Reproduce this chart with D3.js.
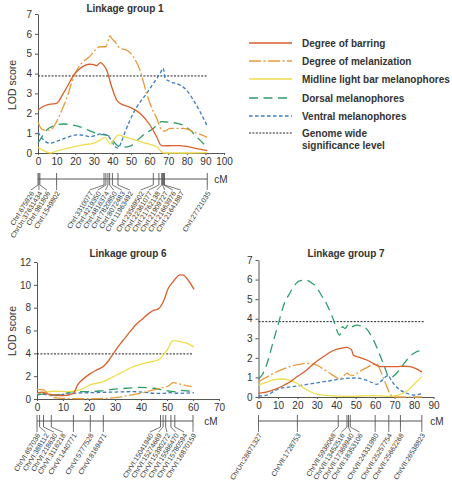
<!DOCTYPE html>
<html><head><meta charset="utf-8">
<script src="https://cdn.jsdelivr.net/npm/d3@7"></script>
<style>body{margin:0;background:#fff;} svg{display:block;font-family:"Liberation Sans",Arial,Helvetica,sans-serif;}</style>
</head><body><svg id="c" width="452" height="483"></svg>
<script>
// ---------- DATA ----------
const seriesNames = ["Degree of barring","Degree of melanization","Midline light bar melanophores","Dorsal melanophores","Ventral melanophores"];
const thresholdName = ["Genome wide","significance level"];

// Linkage group 1 : [cM, LOD]
const lg1Barring = [[0,2.15],[2,2.3],[5,2.42],[8,2.47],[10,2.5],[13.6,3.0],[17.2,3.59],[19,3.9],[22,4.2],[25,4.4],[28,4.47],[30,4.45],[31.5,4.4],[33.5,4.55],[35,4.45],[36.9,4.18],[39.6,3.34],[42.3,2.67],[44,2.5],[49.5,2.3],[54.8,2.0],[60.2,1.41],[63.8,0.82],[66,0.4],[67.5,0.36],[72,0.37],[76,0.37],[84,0.25],[91,0.12]];
const lg1Melan = [[0,1.58],[1.5,1.25],[3,1.16],[6.5,1.15],[10,1.58],[13,2.2],[15.4,2.75],[18,3.5],[20,4.0],[22.6,4.43],[25,4.65],[28,4.88],[31,5.2],[33.3,5.35],[36.5,5.35],[38.7,5.9],[39.8,5.75],[41.4,5.6],[44,5.27],[47.7,5.18],[51.2,4.85],[54.8,4.18],[58.4,3.0],[61,2.3],[63.8,1.75],[66.5,1.16],[68,1.1],[71,1.24],[78,1.24],[84,1.05],[91,0.79]];
const lg1Midline = [[0,0.29],[3,0.12],[6.5,0],[8,0.02],[10,0.1],[15,0.22],[20.8,0.35],[25,0.42],[29.7,0.49],[33,0.62],[36,0.79],[37.8,0.57],[39,0.45],[41,0.7],[43.2,0.91],[46,0.83],[49.5,0.74],[56.6,0.52],[62,0.38],[64,0.3],[66,0.1],[67.6,0],[80,0],[91,0.02]];
const lg1Dorsal = [[0,0.5],[2,0.8],[4.7,1.16],[8,1.35],[13.6,1.46],[18,1.42],[22.6,1.32],[27,1.15],[31.5,0.99],[35,0.92],[37,0.9],[38.7,0.82],[42.3,0.4],[45,0.29],[49.5,0.35],[53,0.6],[56.6,0.91],[62,1.24],[64,1.41],[66.5,1.58],[70,1.55],[74.5,1.5],[78,1.4],[81.7,1.16],[86,0.75],[91,0.29]];
const lg1Ventral = [[0,1.05],[3,0.65],[6.5,0.49],[9,0.55],[11.8,0.65],[16,0.8],[20.8,0.91],[24,0.9],[28,0.82],[31,0.88],[33.3,0.96],[37,0.9],[39,0.7],[41.4,0.32],[43,0.25],[45,0.6],[47,1.1],[49.5,1.66],[53,2.3],[58.4,3.0],[62,3.5],[65.6,4.0],[67.4,4.27],[68.3,3.76],[71,3.6],[76.3,3.42],[80,3.15],[83.5,2.67],[87,2.1],[90.7,1.41]];
const lg1Threshold = [0, 91, 3.88];
const lg1Markers = ["ChrI:675926","ChrUn:37631434","ChrI:981806","ChrI:1549802","ChrI:3310077","ChrI:4219350","ChrI:4816374","ChrI:7820850","ChrI:8072483","ChrI:11963492","ChrI:23569502","ChrI:22361077","ChrI:21762138","ChrI:21909727","ChrI:21663976","ChrI:21641887","ChrI:27721035"];
const lg1MarkerPos = [0,0.5,1,10,35.5,36.5,37.6,38.5,40,43,62,65,66.5,67,67.5,68,91];
const lg1XTicks = [0,10,20,30,40,50,60,70,80,90,100];
const lg1YTicks = [0,1,2,3,4,5,6,7];

// Linkage group 6
const lg6Barring = [[0,0.55],[2,0.6],[4,0.45],[7,0.35],[10,0.3],[14,0.5],[15.5,1.2],[17,1.6],[20.4,2.2],[23,2.55],[25.5,2.85],[27.5,3.35],[29.3,3.95],[30.6,4.4],[33,5.1],[35.8,5.9],[38,6.5],[40.9,7.08],[43,7.5],[44.7,7.75],[46.7,7.9],[48.6,8.54],[50.5,9.7],[52.4,10.29],[55,10.88],[56.3,10.85],[58.2,10.4],[60.4,9.6]];
const lg6Melan = [[0,0.85],[2.6,0.8],[4,0.5],[6.5,0.12],[10,0.05],[20,0.02],[24,0.03],[30.6,0.15],[35,0.3],[39.6,0.5],[44.7,0.79],[48.6,1.02],[50.5,1.14],[52.4,1.43],[54,1.35],[57,1.2],[59.5,1.08]];
const lg6Midline = [[0,0.5],[3,0.6],[6,0.68],[11.4,0.64],[16.5,0.79],[20.4,1.23],[25.5,1.52],[30.6,2.1],[34,2.5],[37,2.83],[42.2,3.19],[46.7,3.42],[48.6,3.86],[50.5,4.45],[51.8,5.03],[52.4,5.11],[55,5.03],[57.6,4.89],[60.4,4.54]];
const lg6Dorsal = [[0,0.35],[3,0.45],[6,0.35],[10,0.45],[14,0.64],[19,0.64],[24,0.7],[29,0.85],[34.5,0.94],[39.6,1.02],[45,0.94],[48.6,0.79],[50.5,0.7],[52.4,0.64],[55,0.75],[58,0.7],[60.4,0.64]];
const lg6Ventral = [[0,0.5],[2,0.45],[4,0.35],[7,0.3],[10,0.4],[14,0.5],[20,0.55],[28,0.6],[37,0.64],[42,0.58],[45,0.5],[48.6,0.5],[51,0.55],[55,0.5],[60.4,0.55]];
const lg6Threshold = [0, 60, 3.95];
const lg6Markers = ["ChrVI:657036","ChrVI:388112","ChrVI:218630","ChrVI:3116218","ChrVI:1440771","ChrVI:5777528","ChrVI:8169471","ChrVI:15041940","ChrVI:15274669","ChrVI:15390272","ChrVI:15586470","ChrVI:15780594","ChrVI:16870159"];
const lg6MarkerPos = [0,1,2.5,5.5,14,20.5,25.5,47.5,48.5,49.5,51.5,53,60];
const lg6XTicks = [0,10,20,30,40,50,60,70];
const lg6YTicks = [0,2,4,6,8,10,12];

// Linkage group 7
const lg7Barring = [[0,0.19],[4,0.25],[7.7,0.36],[12,0.55],[16.3,0.78],[20,1.05],[24.8,1.38],[29,1.75],[33.4,2.06],[38,2.35],[42,2.48],[45.4,2.54],[47.8,2.42],[48.8,2.14],[52,2.02],[55.7,1.89],[59,1.72],[62.5,1.55],[66,1.55],[70.9,1.55],[75,1.57],[77.8,1.55],[81,1.45],[84,1.27]];
const lg7Melan = [[0,0.78],[4,1.0],[7.7,1.21],[12,1.4],[16.3,1.55],[20,1.65],[24.8,1.72],[27,1.7],[30,1.63],[33,1.45],[36.8,1.21],[40,1.0],[42,0.9],[44,1.1],[45.5,1.22],[46.5,1.15],[48.8,1.1],[52,1.3],[54.8,1.46],[58,1.62],[60.8,1.71],[62.5,1.4],[64.5,0.9],[66,0.53],[68,0.1],[70,0],[84,0]];
const lg7Midline = [[0,0.61],[4,0.75],[7.7,0.87],[12,0.92],[16,0.85],[19.7,0.7],[23,0.48],[26.6,0.27],[30,0.15],[33.4,0.1],[40,0.05],[45.4,0.03],[52,0.05],[58.9,0.07],[63,0.05],[67.7,0.03],[71,0.08],[74.4,0.19],[78,0.45],[81,0.75],[84,1.04]];
const lg7Dorsal = [[0,0.92],[2,1.15],[4,1.6],[7.5,2.8],[10.8,3.95],[13,4.7],[16,5.29],[18.5,5.7],[21.1,5.93],[24.6,5.97],[27,5.85],[29.7,5.63],[32,5.25],[34.9,4.78],[38.3,4.01],[41.8,3.16],[43.1,3.59],[44.5,3.5],[46,3.67],[47,3.55],[50.4,3.67],[54.6,3.56],[58.9,2.95],[61,2.5],[63,2.0],[65,1.5],[66.8,1.05],[68,1.0],[70.9,1.2],[74,1.6],[77.8,2.06],[81,2.3],[83.5,2.38]];
const lg7Ventral = [[0,0.05],[4.4,0.1],[8,0.3],[11.1,0.44],[15,0.5],[19.7,0.56],[28.3,0.7],[36.8,0.83],[41,0.9],[45.4,0.95],[49,0.97],[52.3,0.95],[55,0.87],[57.4,0.78],[60.8,0.65],[63,0.8],[65,1.0],[66.8,1.1],[68,0.9],[69.4,0.7],[72.8,0.36],[76,0.2],[79.7,0.1],[82,0.12],[84,0.19]];
const lg7Threshold = [0, 85, 3.85];
const lg7Markers = ["ChrUn:28671327","ChrVII:1728753","ChrVII:5936068","ChrVII:13452516","ChrVII:17369940","ChrVII:18353106","ChrVII:24331980","ChrVII:25257754","ChrVII:25662268","ChrVII:26538823"];
const lg7MarkerPos = [0,20,41,45.5,46.3,47.2,60,67,73,84];
const lg7XTicks = [0,10,20,30,40,50,60,70,80,90];
const lg7YTicks = [0,1,2,3,4,5,6,7];

// ---------- STYLE ----------
const colors = ["#d9602c","#e99a3e","#efdd4e","#2e9c69","#3b7dc0"];
const dashes = [null,"12,2.5,2,2.5",null,"9,5.5","3.6,2.4"];
const textColor = "#333";
const axisColor = "#555";

const panels = [
  {title:"Linkage group 1", series:[lg1Barring,lg1Melan,lg1Midline,lg1Dorsal,lg1Ventral], thr:lg1Threshold,
   markers:lg1Markers, pos:lg1MarkerPos, xt:lg1XTicks, yt:lg1YTicks,
   xr:[38,224], yr:[153,14], titleX:125, titleY:12, mapY:179, gap:8, minOff:-8, ylab:[12,85], cmX:221},
  {title:"Linkage group 6", series:[lg6Barring,lg6Melan,lg6Midline,lg6Dorsal,lg6Ventral], thr:lg6Threshold,
   markers:lg6Markers, pos:lg6MarkerPos, xt:lg6XTicks, yt:lg6YTicks,
   xr:[37,219], yr:[399,262], titleX:128, titleY:257, mapY:421, gap:8.5, minOff:0, ylab:[12,331], cmX:211},
  {title:"Linkage group 7", series:[lg7Barring,lg7Melan,lg7Midline,lg7Dorsal,lg7Ventral], thr:lg7Threshold,
   markers:lg7Markers, pos:lg7MarkerPos, xt:lg7XTicks, yt:lg7YTicks,
   xr:[258.5,433.5], yr:[397,260], titleX:346, titleY:257, mapY:421, gap:9, minOff:0, ylab:null, cmX:437}
];

const svg = d3.select("#c");
svg.append("rect").attr("width",452).attr("height",483).attr("fill","#fff");

// 1-D label de-overlap keeping order; first block clamped to minX
function spread(xs, gap, minX){
  const blocks=[];
  const start=(b,idx)=> idx===0 ? Math.max(minX, b.sumAdj/b.n) : b.sumAdj/b.n;
  xs.forEach(x=>{
    blocks.push({n:1,sumAdj:x});
    while(blocks.length>1){
      const L=blocks.length;
      const b=blocks[L-1], a=blocks[L-2];
      if(start(a,L-2) + a.n*gap > start(b,L-1)){
        blocks.pop(); blocks.pop();
        blocks.push({n:a.n+b.n, sumAdj:a.sumAdj + b.sumAdj - b.n*a.n*gap});
      } else break;
    }
  });
  const out=[];
  blocks.forEach((b,idx)=>{const s=start(b,idx); for(let k=0;k<b.n;k++) out.push(s+k*gap);});
  return out;
}

panels.forEach(p=>{
  const xd=[p.xt[0], p.xt[p.xt.length-1]];
  const yd=[p.yt[0], p.yt[p.yt.length-1]];
  const x=d3.scaleLinear().domain(xd).range(p.xr);
  const y=d3.scaleLinear().domain(yd).range(p.yr);
  const g=svg.append("g");

  // axes
  const xa=g.append("g").attr("transform",`translate(0,${p.yr[0]})`)
    .call(d3.axisBottom(x).tickValues(p.xt).tickSizeInner(2).tickSizeOuter(0).tickPadding(3).tickFormat(d3.format("d")));
  const ya=g.append("g").attr("transform",`translate(${p.xr[0]},0)`)
    .call(d3.axisLeft(y).tickValues(p.yt).tickSizeInner(3).tickSizeOuter(0).tickPadding(3).tickFormat(d3.format("d")));
  [xa,ya].forEach(a=>{
    a.select(".domain").attr("stroke",axisColor).attr("stroke-width",1);
    a.selectAll(".tick line").attr("stroke",axisColor);
    a.selectAll("text").attr("fill",textColor).style("font-size","10px").style("font-family","'Liberation Sans',Arial,sans-serif");
  });

  // title
  g.append("text").attr("x",p.titleX).attr("y",p.titleY).attr("text-anchor","middle")
   .attr("fill",textColor).style("font-size","10px").style("font-weight","bold").text(p.title);
  if(p.ylab){
    g.append("text").attr("transform",`translate(${p.ylab[0]},${p.ylab[1]}) rotate(-90)`)
     .attr("text-anchor","middle").attr("dy","0.35em").attr("fill",textColor).style("font-size","10.5px").text("LOD score");
  }

  // threshold
  g.append("line").attr("x1",x(p.thr[0])).attr("x2",x(p.thr[1])).attr("y1",y(p.thr[2])).attr("y2",y(p.thr[2]))
   .attr("stroke","#222").attr("stroke-width",1).attr("stroke-dasharray","2,1.4");

  // curves
  const line=d3.line().x(d=>x(d[0])).y(d=>y(d[1])).curve(d3.curveMonotoneX);
  [3,4,2,1,0].forEach(i=>{
    g.append("path").attr("d",line(p.series[i])).attr("fill","none")
     .attr("stroke",colors[i]).attr("stroke-width",1.3)
     .attr("stroke-dasharray",dashes[i]);
  });

  // marker map
  const mY=p.mapY;
  const mg=g.append("g");
  const last=d3.max(p.pos);
  mg.append("line").attr("x1",x(0)).attr("x2",x(last)).attr("y1",mY).attr("y2",mY).attr("stroke","#555").attr("stroke-width",1);
  const tx=p.pos.map(v=>x(v));
  const ax=spread(tx,p.gap,x(0)+p.minOff);
  p.pos.forEach((v,i)=>{
    mg.append("line").attr("x1",tx[i]).attr("x2",tx[i]).attr("y1",mY-6).attr("y2",mY+6).attr("stroke","#555").attr("stroke-width",0.9);
    mg.append("line").attr("x1",tx[i]).attr("x2",ax[i]).attr("y1",mY+6).attr("y2",mY+11).attr("stroke","#555").attr("stroke-width",0.8);
    mg.append("text").attr("transform",`translate(${ax[i]+1.5},${mY+13}) rotate(-58)`)
      .attr("text-anchor","end").attr("dy","0.35em").attr("fill",textColor)
      .style("font-size","7px").text(p.markers[i]);
  });
  mg.append("text").attr("x",p.cmX).attr("y",mY).attr("dy","0.35em").attr("text-anchor","middle")
    .attr("fill",textColor).style("font-size","10px").text("cM");
});

// legend
const lg=svg.append("g");
const rows=[43,61,79,98,116];
seriesNames.forEach((n,i)=>{
  lg.append("line").attr("x1",249).attr("x2",292).attr("y1",rows[i]).attr("y2",rows[i])
    .attr("stroke",colors[i]).attr("stroke-width",1.5).attr("stroke-dasharray",dashes[i]);
  lg.append("text").attr("x",302).attr("y",rows[i]).attr("dy","0.35em").attr("fill",textColor)
    .style("font-size","10px").style("font-weight","bold").text(n);
});
lg.append("line").attr("x1",249).attr("x2",292).attr("y1",133).attr("y2",133)
  .attr("stroke","#222").attr("stroke-width",1).attr("stroke-dasharray","2,1.4");
thresholdName.forEach((t,k)=>{
  lg.append("text").attr("x",302).attr("y",133+k*12.5).attr("dy","0.35em").attr("fill",textColor)
    .style("font-size","10px").style("font-weight","bold").text(t);
});
</script></body></html>
